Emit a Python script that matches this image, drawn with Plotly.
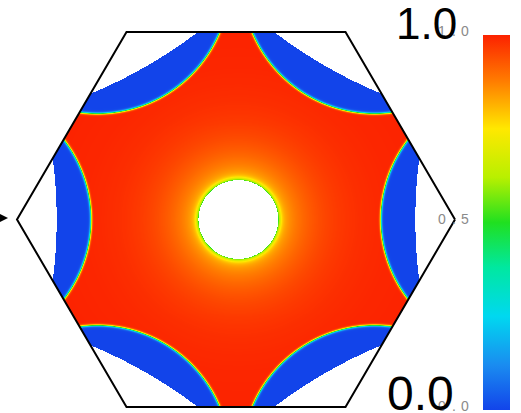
import numpy as np
import plotly.graph_objects as go

# ---- colour scale of the order parameter ----
scale_stops = [0.0, 0.12, 0.25, 0.38, 0.5, 0.62, 0.75, 0.88, 1.0]
scale_colors = ["#1244ea", "#1a8cf0", "#00d8f0", "#00e8a0", "#20e020",
                "#b8f000", "#ffe800", "#ff7a00", "#fc2200"]

# ---- colour bar labels ----
cbar_tick_values = [0.0, 0.5, 1.0]
cbar_tick_labels = ["0.0", "0.5", "1.0"]
cbar_end_values = [1.0, 0.0]
cbar_end_labels = ["1.0", "0.0"]

# ---- domain geometry (units of the hexagon circumradius) ----
hex_radius = 1.0
hole_center = (0.011, 0.0)
hole_radius = 0.182
band_center_offset = 0.263      # circle centre beyond each corner
band_inner_radius = 0.603       # blue/red interface
white_edge_offset = 2.05        # very large circle -> almost straight blue/white edge
white_edge_depth = 0.183        # depth of the empty corner region
interface_width = 0.003
halo_sharp = (0.30, 0.010)      # (amplitude, decay length) near the hole
halo_wide = (0.20, 0.150)

# ---- sampling grid ----
n_x, n_y = 440, 380
xs = np.linspace(-hex_radius, hex_radius, n_x)
ys = np.linspace(-hex_radius * np.sqrt(3) / 2, hex_radius * np.sqrt(3) / 2, n_y)
X, Y = np.meshgrid(xs, ys)

inside = (np.abs(Y) <= np.sqrt(3) / 2 * hex_radius + 1e-9) & \
         (np.abs(Y) <= np.sqrt(3) * (hex_radius - np.abs(X)) + 1e-9)

# radial halo around the central hole
r_hole = np.hypot(X - hole_center[0], Y - hole_center[1])
dist = np.clip(r_hole - hole_radius, 0, None)
value = 1.0 - halo_sharp[0] * np.exp(-dist / halo_sharp[1]) \
            - halo_wide[0] * np.exp(-dist / halo_wide[1])

empty = (~inside) | (r_hole < hole_radius)

# blue bands around every corner of the hexagon
for k in range(6):
    ang = np.deg2rad(60 * k)
    vx, vy = hex_radius * np.cos(ang), hex_radius * np.sin(ang)
    cx, cy = vx * (1 + band_center_offset), vy * (1 + band_center_offset)
    rho = np.hypot(X - cx, Y - cy)
    band = 1.0 / (1.0 + np.exp(-(rho - band_inner_radius) / interface_width))
    value = np.minimum(value, band)
    wx, wy = vx * (1 + white_edge_offset), vy * (1 + white_edge_offset)
    empty |= np.hypot(X - wx, Y - wy) < (white_edge_offset + white_edge_depth)

z = np.where(empty, np.nan, np.round(value, 3))

# ---- pixel layout helpers ----
W, H = 521, 413
def px(xp):
    return xp / W
def py(yp):
    return 1 - yp / H

bar_left, bar_top, bar_bottom, bar_width = 483, 35, 410, 27

colorscale = [[s, c] for s, c in zip(scale_stops, scale_colors)]

fig = go.Figure()
fig.add_trace(go.Heatmap(
    x=xs, y=ys, z=z, zmin=0, zmax=1, zsmooth=False,
    colorscale=colorscale, hoverinfo="skip",
    colorbar=dict(
        thicknessmode="pixels", thickness=bar_width,
        lenmode="pixels", len=bar_bottom - bar_top,
        x=px(bar_left), xanchor="left",
        y=py(bar_bottom), yanchor="bottom",
        xpad=0, ypad=0, outlinewidth=0,
        showticklabels=False, ticks="",
    ),
))

# hexagon outline
ang = np.deg2rad(np.arange(0, 361, 60))
fig.add_trace(go.Scatter(
    x=hex_radius * np.cos(ang), y=hex_radius * np.sin(ang),
    mode="lines", line=dict(color="black", width=2),
    hoverinfo="skip", showlegend=False,
))

annotations = []
# small grey tick labels, widely spaced characters
for v, lab in zip(cbar_tick_values, cbar_tick_labels):
    yp = bar_bottom - v * (bar_bottom - bar_top) - 4
    for i, ch in enumerate(lab):
        annotations.append(dict(
            x=px(442 + 11.5 * i), y=py(yp), xref="paper", yref="paper",
            text=ch, showarrow=False, xanchor="center", yanchor="middle",
            font=dict(family="Liberation Sans", size=14, color="#8a8a8a"),
        ))
# large black end labels
for v, lab, size in zip(cbar_end_values, cbar_end_labels, [44, 48]):
    yp = 23 if v == 1.0 else 393
    xp = 426 if v == 1.0 else 420
    annotations.append(dict(
        x=px(xp), y=py(yp), xref="paper", yref="paper",
        text=lab, showarrow=False, xanchor="center", yanchor="middle",
        font=dict(family="Liberation Sans", size=size, color="black"),
    ))
# arrow pointing at the left corner
annotations.append(dict(
    x=px(8), y=py(218), xref="paper", yref="paper", text="",
    showarrow=True, ax=-40, ay=0, arrowhead=2, arrowsize=1.4,
    arrowwidth=1.6, arrowcolor="black",
))

fig.update_layout(
    width=W, height=H, margin=dict(l=0, r=0, t=0, b=0),
    paper_bgcolor="white", plot_bgcolor="white",
    xaxis=dict(visible=False, range=[(0 - 236) / 219, (W - 236) / 219]),
    yaxis=dict(visible=False, range=[-(H - 219.5) / 216.5, 219.5 / 216.5]),
    showlegend=False, annotations=annotations,
)

fig.write_html("out.html")
